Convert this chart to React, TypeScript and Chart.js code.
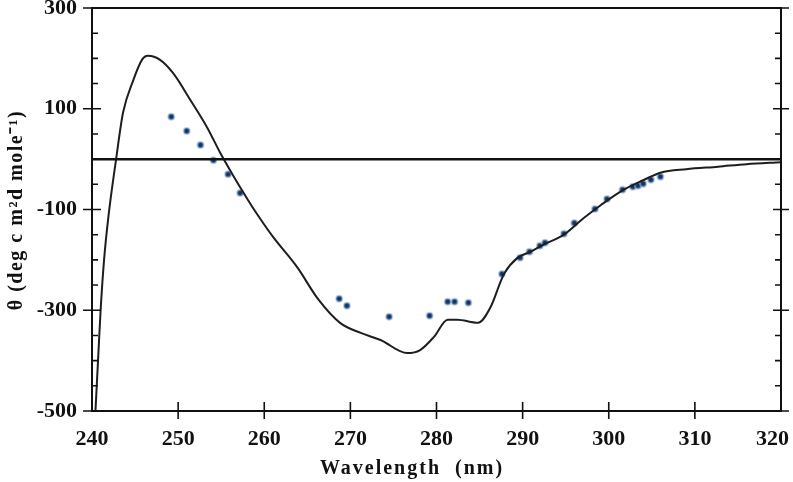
import React, { useEffect, useRef } from "react";
import { Chart, registerables } from "chart.js";

Chart.register(...registerables);

// CD spectrum curve (solid line)
const curveWavelengths = [
  240.4, 240.7, 241.0, 241.4, 241.9, 242.8, 243.6, 244.8, 245.8, 246.5, 247.9,
  249.4, 251.4, 253.4, 254.9, 256.4, 258.0, 259.2, 261.0, 263.8, 266.3, 268.8,
  271.2, 273.5, 276.6, 278.1, 279.7, 281.3, 282.4, 284.8, 286.3, 287.4, 287.9,
  289.4, 290.9, 292.4, 294.8, 297.1, 299.1, 301.7, 304.0, 306.0, 309.0, 312.7,
  316.0, 320.0,
];
const curveTheta = [
  -500, -400, -300, -200, -115, 0, 92, 157, 197, 205, 197, 171, 118, 62, 12,
  -33, -78, -110, -154, -214, -279, -325, -345, -359, -385, -379, -353, -319,
  -319, -325, -293, -245, -226, -196, -184, -170, -150, -117, -91, -61, -42,
  -27, -20, -15, -10, -6,
];

// Measured points (blue dots)
const pointWavelengths = [
  249.2, 251.0, 252.6, 254.1, 255.8, 257.2, 268.7, 269.6, 274.5, 279.2, 281.3,
  282.1, 283.7, 287.6, 289.7, 290.8, 292.0, 292.6, 294.8, 296.0, 298.4, 299.8,
  301.6, 302.8, 303.4, 304.0, 304.9, 306.0,
];
const pointTheta = [
  84, 56, 28, -2, -30, -67, -277, -291, -313, -311, -283, -283, -285, -228,
  -196, -184, -172, -166, -148, -127, -99, -79, -61, -55, -53, -49, -41, -35,
];

const xTickLabels = [240, 250, 260, 270, 280, 290, 300, 310, 320];
const yTickLabels = [300, 100, -100, -300, -500];

const xTitle = "Wavelength  (nm)";
const yTitle = "\u03b8 (deg c m\u00b2d mole\u207b\u00b9)";

const framePlugin = {
  id: "frame",
  afterDraw(chart: any) {
    const { ctx, chartArea, scales } = chart;
    const { left, right, top, bottom } = chartArea;
    const x = scales.x;
    const y = scales.y;
    ctx.save();
    ctx.strokeStyle = "#111";
    ctx.lineWidth = 2;
    ctx.strokeRect(left, top, right - left, bottom - top);
    // zero line
    const y0 = y.getPixelForValue(0);
    ctx.lineWidth = 2.5;
    ctx.beginPath();
    ctx.moveTo(left, y0);
    ctx.lineTo(right, y0);
    ctx.stroke();
    // y ticks
    ctx.lineWidth = 1.6;
    for (let v = -500; v <= 300; v += 50) {
      const py = y.getPixelForValue(v);
      const major = yTickLabels.includes(v);
      ctx.beginPath();
      if (major) {
        ctx.moveTo(left - 9, py);
        ctx.lineTo(left + 9, py);
        ctx.moveTo(right - 8, py);
        ctx.lineTo(right + 8, py);
      } else {
        ctx.moveTo(left, py);
        ctx.lineTo(left + 6, py);
        ctx.moveTo(right - 6, py);
        ctx.lineTo(right, py);
      }
      ctx.stroke();
    }
    // x ticks
    for (const v of xTickLabels) {
      if (v === 240 || v === 320) continue;
      const px = x.getPixelForValue(v);
      ctx.beginPath();
      ctx.moveTo(px, bottom - 9);
      ctx.lineTo(px, bottom + 8);
      ctx.stroke();
    }
    // x tick labels
    ctx.fillStyle = "#111";
    ctx.font = "bold 22px 'Liberation Serif', serif";
    ctx.textBaseline = "middle";
    for (const v of xTickLabels) {
      const px = x.getPixelForValue(v);
      if (v === 320) {
        ctx.textAlign = "right";
        ctx.fillText(String(v), 789, 439);
      } else {
        ctx.textAlign = "center";
        ctx.fillText(String(v), px, 439);
      }
    }
    // titles
    ctx.font = "bold 20px 'Liberation Serif', serif";
    (ctx as any).letterSpacing = "2px";
    ctx.textAlign = "center";
    ctx.fillText(xTitle, 412, 469);
    ctx.translate(17, 210);
    ctx.rotate(-Math.PI / 2);
    (ctx as any).letterSpacing = "1.5px";
    ctx.font = "bold 20px 'Liberation Serif', serif";
    ctx.fillText(yTitle, 0, 0);
    ctx.restore();
  },
};

function zeroPad(s: any) {
  s.paddingTop = 0;
  s.paddingBottom = 0;
  s.paddingLeft = 0;
  s.paddingRight = 0;
}

export default function App() {
  const ref = useRef<HTMLCanvasElement>(null);
  useEffect(() => {
    document.body.style.margin = "0";
    const canvas = ref.current!;
    const chart = new Chart(canvas, {
      type: "line",
      data: {
        datasets: [
          {
            type: "line",
            data: curveWavelengths.map((w, i) => ({ x: w, y: curveTheta[i] })),
            borderColor: "#1e1e1e",
            borderWidth: 2,
            pointRadius: 0,
            cubicInterpolationMode: "monotone",
            fill: false,
          },
          {
            type: "scatter",
            data: pointWavelengths.map((w, i) => ({ x: w, y: pointTheta[i] })),
            backgroundColor: "#123467",
            borderColor: "rgba(140,175,210,0.55)",
            borderWidth: 2,
            pointRadius: 3,
            showLine: false,
          } as any,
        ],
      },
      options: {
        responsive: false,
        animation: false,
        maintainAspectRatio: false,
        layout: { padding: { top: 8, right: 12, left: 0, bottom: 0 } },
        plugins: { legend: { display: false }, tooltip: { enabled: false } },
        scales: {
          x: {
            type: "linear",
            min: 240,
            max: 320,
            grid: { display: false, drawTicks: false },
            border: { display: false },
            afterFit: (s: any) => {
              s.height = 71;
              zeroPad(s);
            },
            ticks: {
              stepSize: 10,
              display: false,
            },
          },
          y: {
            type: "linear",
            min: -500,
            max: 300,
            grid: { display: false, drawTicks: false },
            border: { display: false },
            afterFit: (s: any) => {
              s.width = 92;
              zeroPad(s);
            },
            ticks: {
              stepSize: 100,
              padding: 15,
              color: "#111",
              font: { family: "'Liberation Serif', serif", size: 22, weight: "bold" },
              callback: (v: any) => (yTickLabels.includes(v) ? String(v) : ""),
            },
          },
        },
      },
      plugins: [framePlugin],
    });
    return () => chart.destroy();
  }, []);
  return (
    <div style={{ width: 793, height: 482 }}>
      <canvas ref={ref} width={793} height={482} />
    </div>
  );
}
